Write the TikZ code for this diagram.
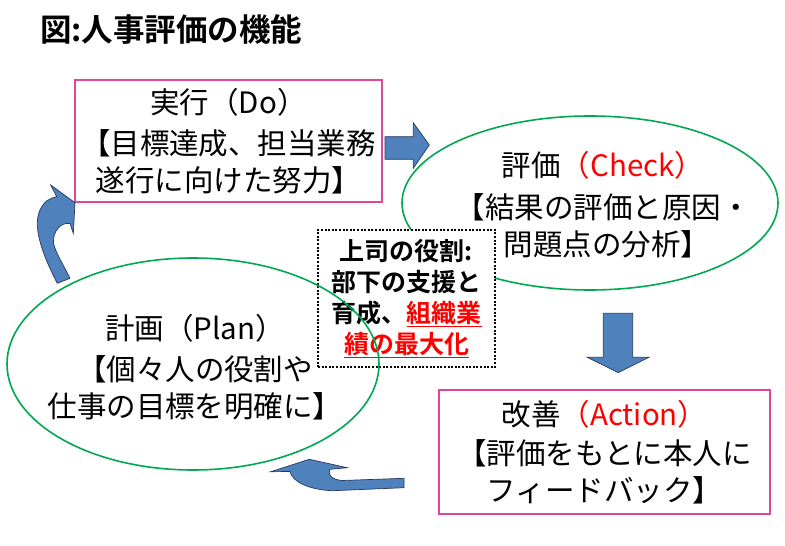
\documentclass[tikz,border=0pt]{standalone}
\usepackage{fontspec}
\usetikzlibrary{shapes.geometric}
\newfontfamily\jp{Noto Sans CJK JP}[BoldFont={Noto Sans CJK JP Bold}]
\definecolor{pinkc}{RGB}{222,72,152}
\definecolor{greenc}{RGB}{0,168,80}
\definecolor{arrowfill}{RGB}{79,129,189}
\definecolor{arrowline}{RGB}{40,58,95}
\begin{document}
\begin{tikzpicture}[x=1pt,y=-1pt,
  boxstyle/.style={draw=pinkc,line width=1.8pt,rectangle,inner sep=0pt,align=center,
    font=\jp\fontsize{29.5}{37}\selectfont},
  ellstyle/.style={draw=greenc,line width=1.6pt,ellipse,inner sep=0pt},
  ltext/.style={align=center,inner sep=0pt,font=\jp\fontsize{29.5}{37}\selectfont},
  rolebox/.style={draw=black,line width=2pt,dash pattern=on 2pt off 1.6pt,fill=white,
    rectangle,inner sep=0pt,align=center,font=\jp\bfseries\fontsize{25}{31}\selectfont},
  blockarrow/.style={fill=arrowfill,draw=arrowline,line width=0.7pt,line join=miter}]
\useasboundingbox[fill=white] (0,0) rectangle (785,546);

% title
\node[anchor=west,inner sep=0pt,font=\jp\bfseries\fontsize{31.5}{36}\selectfont] (title) at (40,29) {図:人事評価の機能};

% Do box
\node[boxstyle,minimum width=307pt,minimum height=122pt] (do) at (228.5,141)
  {実行（Do）\\[4pt]【目標達成、担当業務\\遂行に向けた努力】};

% Check ellipse
\node[ellstyle,minimum width=376pt,minimum height=174pt] (check) at (590,203) {};
\node[ltext] (checktext) at (603,205)
  {評価{\color{red}（Check）}\\[5pt]【結果の評価と原因・\\\hspace*{8pt}問題点の分析】};

% role box
\node[rolebox,minimum width=177pt,minimum height=137pt] (role) at (406.5,298.5)
  {上司の役割:\\部下の支援と\\育成、{\color{red}\underline{組織業}}\\{\color{red}\underline{績の最大化}}};

% Plan ellipse
\node[ellstyle,minimum width=372pt,minimum height=212pt] (plan) at (193,364) {};
\node[ltext] (plantext) at (195,367)
  {計画（Plan）\\[4pt]【個々人の役割や\\仕事の目標を明確に】};

% Action box
\node[boxstyle,minimum width=331pt,minimum height=124pt] (act) at (604.5,452)
  {改善{\color{red}（Action）}\\[2pt]【評価をもとに本人に\\フィードバック】};

% arrows
\draw[blockarrow] (385,136.7) -- (413.3,136.7) -- (413.3,122.7) -- (429.3,145)
  -- (413.3,168.3) -- (413.3,159.3) -- (385,159.3) -- cycle;
\draw[blockarrow] (603.3,313.3) -- (632.7,313.3) -- (632.7,357.3) -- (649,357.3)
  -- (618.3,372.7) -- (587.3,357.3) -- (603.3,357.3) -- cycle;
\draw[blockarrow] (270.7,471.7) -- (309.3,459.3) -- (347.3,467.7) -- (330,469.3)
  .. controls (327,474) and (331,479.5) .. (342,480.5) -- (404,478.3) -- (404,487.7)
  -- (333,490.7) .. controls (310,490) and (292,482) .. (290,471.5) -- cycle;
\draw[blockarrow] (57.3,283.3) .. controls (40,250) and (33,225) .. (40,210)
  .. controls (44,201) and (50,198) .. (56.7,196.7) -- (50.7,185) -- (75,202.7)
  -- (73.3,233.3) -- (70,223.5) .. controls (60,222) and (53,232) .. (53.5,242)
  .. controls (54,250) and (62,262) .. (70,278.3) -- cycle;
\end{tikzpicture}
\end{document}
